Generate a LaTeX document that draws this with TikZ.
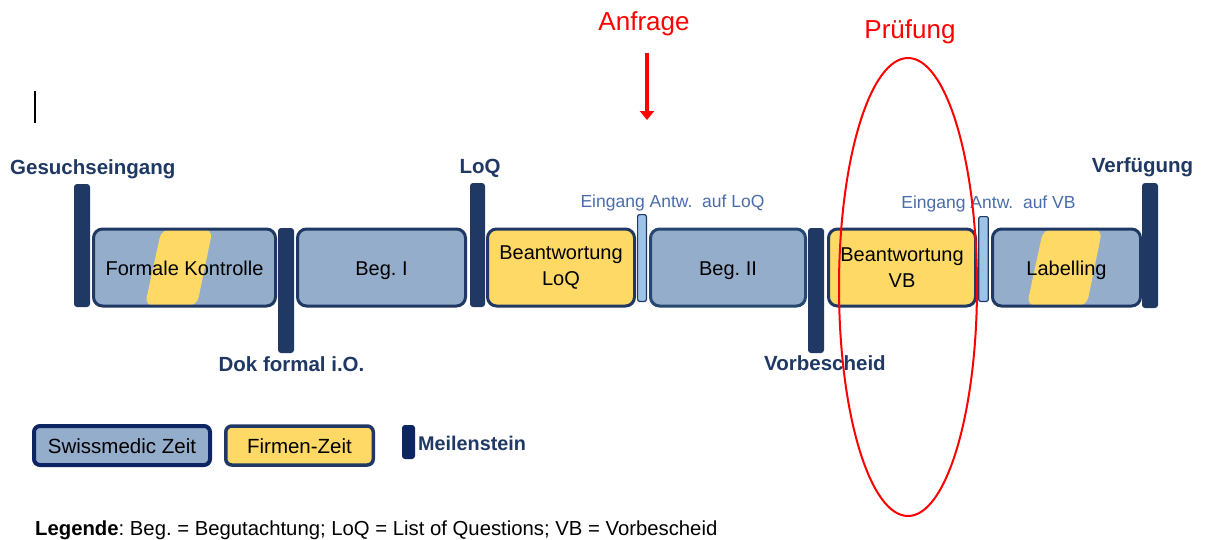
\documentclass[tikz,border=0pt]{standalone}
\usepackage{fontspec}
\setmainfont{Liberation Sans}
\usetikzlibrary{arrows.meta,calc,shapes.geometric}
\frenchspacing
\definecolor{navy}{HTML}{1F3864}
\definecolor{deepnavy}{HTML}{0E2563}
\definecolor{boxblue}{HTML}{94ADCB}
\definecolor{firmyellow}{HTML}{FFD966}
\definecolor{thinblue}{HTML}{9DC3E6}
\definecolor{evblue}{HTML}{4A6CAA}
\definecolor{midnavy}{HTML}{26476F}
\tikzset{
  tbox/.style={draw=navy, line width=3pt, rounded corners=9pt, fill=boxblue,
    minimum height=77pt, inner sep=0pt, align=center, text=black,
    font=\fontsize{20}{26}\selectfont},
  ybox/.style={tbox, fill=firmyellow},
  oneline/.style={text height=15pt, text depth=0pt},
  msbar/.style={fill=navy, rounded corners=3pt, inner sep=0pt, minimum width=16pt},
  thinbar/.style={draw=navy, fill=thinblue, line width=1.2pt, rounded corners=2pt,
    inner sep=0pt, minimum width=8.8pt},
  mslabel/.style={text=navy, font=\bfseries\fontsize{20.5}{24}\selectfont, inner sep=0pt},
  evlabel/.style={text=evblue, font=\fontsize{17.5}{20}\selectfont, inner sep=0pt},
  redlabel/.style={text=red, font=\fontsize{26}{30}\selectfont, inner sep=0pt},
  legbox/.style={rounded corners=6pt, inner sep=0pt, minimum height=39pt,
    text height=15pt, text depth=0pt,
    text=black, font=\fontsize{20.5}{24}\selectfont},
  stripe/.style={path picture={\fill[firmyellow]
      ($(path picture bounding box.north west)!#1!(path picture bounding box.north east)$)
      -- ($(path picture bounding box.north west)!\stripeB!(path picture bounding box.north east)$)
      -- ($(path picture bounding box.south west)!\stripeC!(path picture bounding box.south east)$)
      -- ($(path picture bounding box.south west)!\stripeD!(path picture bounding box.south east)$)
      -- cycle;}}
}
\begin{document}
\begin{tikzpicture}[x=1pt,y=-1pt]
\useasboundingbox (0,0) rectangle (1205,539);

% text cursor
\draw[black, line width=1.2pt] (35,91) -- (35,123);

% phase boxes
\def\stripeB{0.655}\def\stripeC{0.568}\def\stripeD{0.282}
\node[tbox, oneline, minimum width=182pt, stripe=0.374] (fk) at (184.5,267.5) {Formale Kontrolle};
\node[tbox, oneline, minimum width=168pt] (beg1) at (381.5,267.5) {Beg. I};
\node[ybox, minimum width=147pt] (bloq) at (561,267.5) {Beantwortung\\LoQ};
\node[tbox, oneline, draw=midnavy, minimum width=155pt] (beg2) at (728,267.5) {Beg. II};
\node[ybox, minimum width=147pt] (bvb) at (902,267.5) {Beantwortung\\VB};
\def\stripeB{0.742}\def\stripeC{0.636}\def\stripeD{0.232}
\node[tbox, oneline, minimum width=148pt, stripe=0.344] (lab) at (1066.5,267.5) {Labelling};

% milestones
\node[msbar, minimum height=123pt] (m1) at (82,245.5) {};
\node[msbar, minimum height=125pt] (m2) at (286,290.5) {};
\node[msbar, minimum width=15pt, minimum height=124pt] (m3) at (477.5,245) {};
\node[msbar, minimum height=125pt] (m4) at (816,290.5) {};
\node[msbar, minimum height=125pt] (m5) at (1150,245.5) {};
\node[thinbar, minimum height=86.8pt] (t1) at (642,258) {};
\node[thinbar, minimum width=9.6pt, minimum height=84.8pt] (t2) at (983.5,259) {};

% milestone labels
\node[mslabel, anchor=base west] (l1) at (10,174) {Gesuchseingang};
\node[mslabel, anchor=base] (l2) at (291.5,371) {Dok formal i.O.};
\node[mslabel, anchor=base] (l3) at (480,173) {LoQ};
\node[mslabel, anchor=base] (l4) at (825,370) {Vorbescheid};
\node[mslabel, anchor=base] (l5) at (1142.5,172) {Verfügung};
\node[evlabel, anchor=base] (e1) at (672.5,207) {Eingang Antw.\ \ auf LoQ};
\node[evlabel, anchor=base] (e2) at (988.5,208) {Eingang Antw.\ \ auf VB};

% red annotations
\node[redlabel, anchor=base] (anf) at (644,30) {Anfrage};
\coordinate (arrS) at (647,53);
\coordinate (arrE) at (647,120);
\draw[red, line width=4pt, -{Triangle[width=14pt,length=9pt]}] (arrS) -- (arrE);
\node[redlabel, anchor=base] (pruef) at (910,38) {Prüfung};
\node[draw=red, line width=2pt, ellipse, minimum width=138pt, minimum height=458pt, inner sep=0pt] (ell) at (908,287) {};

% legend
\node[legbox, draw=deepnavy, line width=4pt, fill=boxblue, minimum width=176pt] (lgs) at (122,445.5) {Swissmedic Zeit};
\node[legbox, draw=navy, line width=3.5pt, fill=firmyellow, minimum width=147.5pt] (lgf) at (299.5,445.5) {Firmen-Zeit};
\node[fill=deepnavy, rounded corners=3pt, inner sep=0pt, minimum width=13pt, minimum height=34pt] (lgm) at (408.5,442) {};
\node[anchor=base west, inner sep=0pt, text=navy, font=\bfseries\fontsize{19.8}{22}\selectfont] (lgmt) at (418,450) {Meilenstein};
\node[anchor=base west, inner sep=0pt, text=black, font=\fontsize{20.3}{24}\selectfont] (leg) at (35,535) {\textbf{Legende}: Beg. = Begutachtung; LoQ = List of Questions; VB = Vorbescheid};
\end{tikzpicture}
\end{document}
